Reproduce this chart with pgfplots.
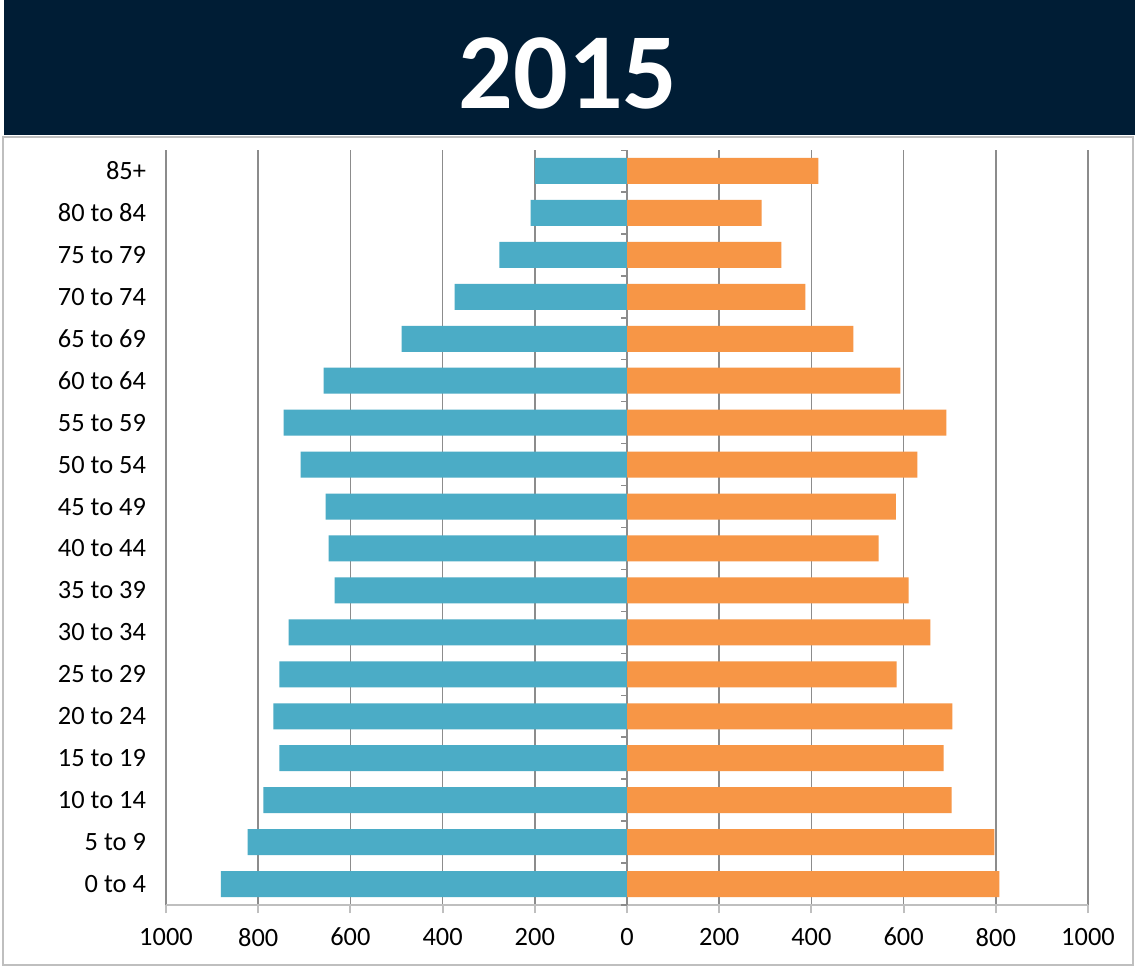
\documentclass[border=0pt]{standalone}
\usepackage{pgfplots}
\pgfplotsset{compat=1.18}
\usepackage{pgfplotstable}
\usepackage{fontspec}
\setmainfont{Carlito}

\definecolor{navy}{HTML}{001D35}
\definecolor{male}{HTML}{4BACC6}
\definecolor{female}{HTML}{F79646}
\definecolor{gridc}{HTML}{8C8C8C}
\definecolor{axisc}{HTML}{BFBFBF}

% age groups bottom to top, male plotted negative
\pgfplotstableread{
idx male female
0 -881 808
1 -823 797
2 -789 704
3 -754 687
4 -767 706
5 -754 585
6 -734 658
7 -634 611
8 -647 546
9 -654 583
10 -708 630
11 -745 693
12 -658 593
13 -489 491
14 -374 387
15 -277 335
16 -209 292
17 -200 415
}\pyramid

\begin{document}
\begin{tikzpicture}
  \fill[white] (0,0) rectangle (567.5pt,-483pt);
  \fill[navy] (2pt,0) rectangle (567.5pt,-67.5pt);
  \draw[axisc, line width=1pt] (1.5pt,-68.5pt) rectangle (566.5pt,-482.5pt);
  \node[white, font=\fontsize{54}{58}\selectfont\bfseries, anchor=base] at (284pt,-54pt) {2015};

  \begin{axis}[
      at={(83pt,-75pt)}, anchor=north west,
      scale only axis, width=461pt, height=377.5pt,
      xbar, bar width=0.62,
      xmin=-1000, xmax=1000, ymin=-0.5, ymax=17.5,
      xtick={-1000,-800,...,1000},
      xticklabels={1000,800,600,400,200,0,200,400,600,800,1000},
      ytick={0,...,17},
      yticklabels={0 to 4,5 to 9,10 to 14,15 to 19,20 to 24,25 to 29,30 to 34,35 to 39,40 to 44,45 to 49,50 to 54,55 to 59,60 to 64,65 to 69,70 to 74,75 to 79,80 to 84,85+},
      xmajorgrids, grid style={gridc, line width=0.75pt},
      axis x line*=bottom, axis y line*=left,
      x axis line style={-, axisc, line width=1pt},
      y axis line style={draw=none},
      xtick style={axisc, line width=1pt},
      ytick style={draw=none},
      xtick align=outside, major tick length=4pt,
      tick label style={font=\fontsize{13.2}{15}\selectfont},
      yticklabel style={xshift=-2.5pt},
      xticklabel style={yshift=-4pt},
      /pgf/number format/assume math mode=true,
    ]
    % category axis at zero with small ticks at the group boundaries
    \draw[gridc, line width=0.75pt] (axis cs:0,-0.5) -- (axis cs:0,17.5);
    \pgfplotsinvokeforeach{-0.5,0.5,...,17.5}{
      \draw[gridc, line width=0.75pt] (axis cs:0,#1) -- ([xshift=-3pt]axis cs:0,#1);
    }
    \addplot[fill=male, draw=none, bar shift=0pt] table[x=male, y=idx] {\pyramid};
    \addplot[fill=female, draw=none, bar shift=0pt] table[x=female, y=idx] {\pyramid};
  \end{axis}
\end{tikzpicture}
\end{document}
